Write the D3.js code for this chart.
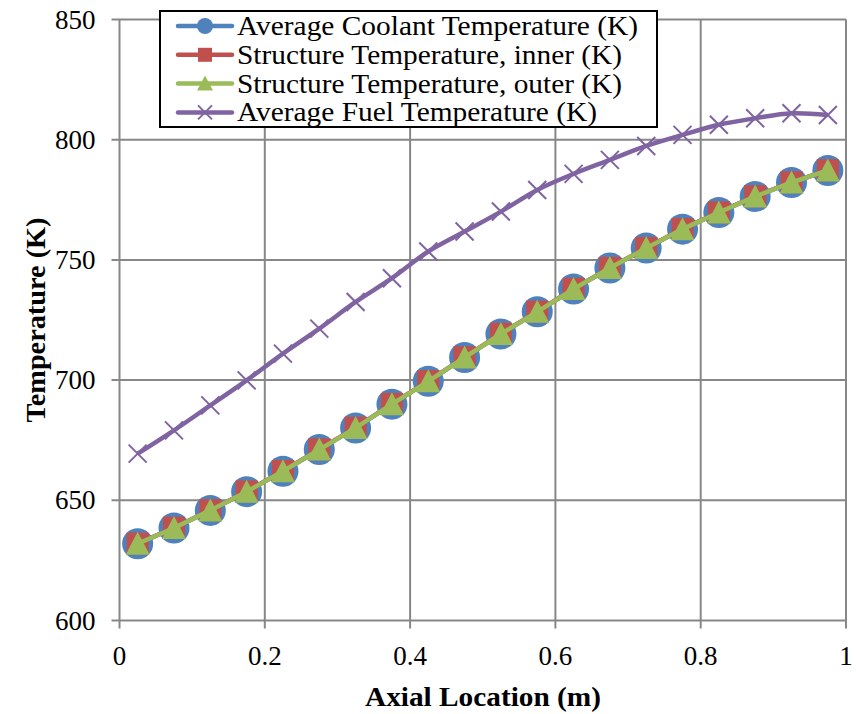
<!DOCTYPE html>
<html>
<head>
<meta charset="utf-8">
<script src="https://cdn.jsdelivr.net/npm/d3@7"></script>
<style>
html,body{margin:0;padding:0;background:#fff;}
svg{display:block;}
</style>
</head>
<body>
<svg id="chart" width="856" height="714"></svg>
<script>
const axialLocation = [0.025,0.075,0.125,0.175,0.225,0.275,0.325,0.375,0.425,0.475,0.525,0.575,0.625,0.675,0.725,0.775,0.825,0.875,0.925,0.975];
const coolantTemp = [631.9,638.5,645.8,653.6,662.1,671.1,680.1,690.0,699.5,709.4,719.2,728.4,737.9,746.6,754.9,762.8,769.7,776.4,782.2,787.2];
const structureInner = [632.0,638.6,645.9,653.7,662.2,671.2,680.2,690.1,699.6,709.5,719.3,728.5,738.0,746.7,755.0,762.9,769.8,776.5,782.3,787.3];
const structureOuter = [631.9,638.5,645.8,653.6,662.1,671.1,680.1,690.0,699.5,709.4,719.2,728.4,737.9,746.6,754.9,762.8,769.7,776.4,782.2,787.2];
const fuelTemp = [669.4,679.1,689.5,699.9,711.0,721.4,732.5,742.4,753.5,761.8,770.1,779.1,785.8,791.6,797.4,802.0,806.2,808.9,811.0,810.3];
const xTicks = [0,0.2,0.4,0.6,0.8,1];
const yTicks = [600,650,700,750,800,850];
const seriesNames = ["Average Coolant Temperature (K)","Structure Temperature, inner (K)","Structure Temperature, outer (K)","Average Fuel Temperature (K)"];

const svg = d3.select("#chart");
const L = 119.5, R = 846, T = 19.5, B = 620.5;
const x = d3.scaleLinear().domain([0,1]).range([L,R]);
const y = d3.scaleLinear().domain([600,850]).range([B,T]);
const font = "'Liberation Serif','Times New Roman',serif";
const grid = "#878787";

// gridlines
svg.append("g").selectAll("line.v").data(xTicks).join("line")
  .attr("x1",d=>x(d)).attr("x2",d=>x(d)).attr("y1",T).attr("y2",B+8)
  .attr("stroke",grid).attr("stroke-width",2);
svg.append("g").selectAll("line.h").data(yTicks).join("line")
  .attr("x1",L-8).attr("x2",R).attr("y1",d=>y(d)).attr("y2",d=>y(d))
  .attr("stroke",grid).attr("stroke-width",2);

// tick labels
svg.append("g").selectAll("text").data(yTicks).join("text")
  .attr("x",L-24).attr("y",d=>y(d)+9).attr("text-anchor","end")
  .attr("font-family",font).attr("font-size",27).text(d=>d);
svg.append("g").selectAll("text").data(xTicks).join("text")
  .attr("x",d=>x(d)).attr("y",B+44).attr("text-anchor","middle")
  .attr("font-family",font).attr("font-size",27).text(d=>d);

// axis titles
svg.append("text").attr("x",483).attr("y",706).attr("text-anchor","middle")
  .attr("font-family",font).attr("font-size",27).attr("font-weight","bold")
  .attr("textLength",236).attr("lengthAdjust","spacingAndGlyphs").text("Axial Location (m)");
svg.append("text").attr("transform","translate(45,320) rotate(-90)").attr("text-anchor","middle")
  .attr("font-family",font).attr("font-size",27).attr("font-weight","bold")
  .attr("textLength",205).attr("lengthAdjust","spacingAndGlyphs").text("Temperature (K)");

const pts = vals => axialLocation.map((a,i)=>[x(a),y(vals[i])]);
const straight = d3.line();
const smooth = d3.line().curve(d3.curveCatmullRom.alpha(0.5));

const cBlue="#4F81BD", cRed="#C0504D", cGreen="#9BBB59", cPurple="#8064A2";

// coolant
svg.append("path").attr("d",straight(pts(coolantTemp))).attr("fill","none").attr("stroke",cBlue).attr("stroke-width",4.5);
svg.append("g").selectAll("circle").data(pts(coolantTemp)).join("circle")
  .attr("cx",d=>d[0]).attr("cy",d=>d[1]).attr("r",15.5).attr("fill",cBlue);
// inner
svg.append("path").attr("d",straight(pts(structureInner))).attr("fill","none").attr("stroke",cRed).attr("stroke-width",4.5);
svg.append("g").selectAll("rect").data(pts(structureInner)).join("rect")
  .attr("x",d=>d[0]-11).attr("y",d=>d[1]-11).attr("width",22).attr("height",22).attr("fill",cRed);
// outer
svg.append("path").attr("d",straight(pts(structureOuter))).attr("fill","none").attr("stroke",cGreen).attr("stroke-width",4.5);
svg.append("g").selectAll("path").data(pts(structureOuter)).join("path")
  .attr("d",d=>`M${d[0]},${d[1]-12}L${d[0]+12},${d[1]+11}L${d[0]-12},${d[1]+11}Z`).attr("fill",cGreen);
// fuel
svg.append("path").attr("d",smooth(pts(fuelTemp))).attr("fill","none").attr("stroke",cPurple).attr("stroke-width",4.5);
svg.append("g").selectAll("path").data(pts(fuelTemp)).join("path")
  .attr("d",d=>`M${d[0]-9},${d[1]-9}L${d[0]+9},${d[1]+9}M${d[0]-9},${d[1]+9}L${d[0]+9},${d[1]-9}`)
  .attr("stroke",cPurple).attr("stroke-width",2).attr("fill","none");

// legend
const lg = svg.append("g");
lg.append("rect").attr("x",160).attr("y",11).attr("width",497).attr("height",116)
  .attr("fill","#fff").attr("stroke","#000").attr("stroke-width",2);
const colors=[cBlue,cRed,cGreen,cPurple];
const legendLens=[401,385,385,360];
seriesNames.forEach((name,i)=>{
  const cy = 26 + i*28.8;
  lg.append("line").attr("x1",178).attr("x2",232).attr("y1",cy).attr("y2",cy)
    .attr("stroke",colors[i]).attr("stroke-width",4.5).attr("stroke-linecap","round");
  const mx=205;
  if(i===0) lg.append("circle").attr("cx",mx).attr("cy",cy).attr("r",8).attr("fill",cBlue);
  if(i===1) lg.append("rect").attr("x",mx-7).attr("y",cy-7).attr("width",14).attr("height",14).attr("fill",cRed);
  if(i===2) lg.append("path").attr("d",`M${mx},${cy-8}L${mx+8},${cy+7}L${mx-8},${cy+7}Z`).attr("fill",cGreen);
  if(i===3) lg.append("path").attr("d",`M${mx-7},${cy-7}L${mx+7},${cy+7}M${mx-7},${cy+7}L${mx+7},${cy-7}`).attr("stroke",cPurple).attr("stroke-width",2);
  lg.append("text").attr("x",237).attr("y",cy+9).attr("font-family",font).attr("font-size",27)
    .attr("textLength",legendLens[i]).attr("lengthAdjust","spacingAndGlyphs").text(name);
});
</script>
</body>
</html>
